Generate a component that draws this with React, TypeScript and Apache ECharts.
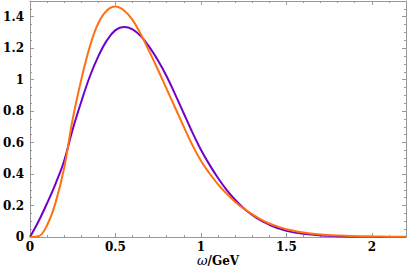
import React, { useEffect, useRef } from "react";
import * as echarts from "echarts";

const xValues = [0, 0.05, 0.1, 0.15, 0.2, 0.25, 0.3, 0.35, 0.4, 0.45, 0.5, 0.55, 0.6, 0.65, 0.7, 0.75, 0.8, 0.85, 0.9, 0.95, 1.0, 1.05, 1.1, 1.15, 1.2, 1.25, 1.3, 1.35, 1.4, 1.45, 1.5, 1.6, 1.7, 1.8, 1.9, 2.0, 2.1, 2.2];
const purpleValues = [0, 0.1, 0.215, 0.34, 0.485, 0.685, 0.86, 1.02, 1.15, 1.25, 1.315, 1.335, 1.32, 1.275, 1.205, 1.12, 1.02, 0.905, 0.785, 0.665, 0.555, 0.46, 0.375, 0.3, 0.237, 0.183, 0.14, 0.105, 0.078, 0.056, 0.039, 0.02, 0.01, 0.005, 0.002, 0.001, 0.0005, 0];
const orangeValues = [0, 0.005, 0.075, 0.22, 0.44, 0.75, 1.0, 1.21, 1.36, 1.44, 1.465, 1.44, 1.38, 1.285, 1.175, 1.06, 0.94, 0.82, 0.7, 0.585, 0.485, 0.405, 0.335, 0.276, 0.224, 0.18, 0.145, 0.112, 0.086, 0.066, 0.05, 0.028, 0.016, 0.009, 0.005, 0.003, 0.002, 0.001];

const X_MIN = 0;
const X_MAX = 2.2;
const Y_MIN = 0;
const Y_MAX = 1.5;

const FRAME = "#999999";
const SERIF = "'DejaVu Serif', 'Liberation Serif', serif";
const labelFont = { fontFamily: SERIF, fontWeight: "bold" as const, fontSize: 12, color: "#000" };

export default function App() {
  const ref = useRef<HTMLDivElement>(null);
  useEffect(() => {
    if (!ref.current) return;
    const chart = echarts.init(ref.current, null, { renderer: "svg" });
    const hiddenCommon = {
      type: "value" as const,
      axisLabel: { show: false },
      splitLine: { show: false },
    };
    const xMain = (position: "bottom" | "top", labels: boolean) => ({
      ...hiddenCommon,
      position,
      min: X_MIN,
      max: X_MAX,
      interval: 0.5,
      axisLine: { show: true, onZero: false, lineStyle: { color: FRAME, width: 1 } },
      axisTick: { show: true, inside: true, length: 4, lineStyle: { color: FRAME } },
      axisLabel: labels
        ? { show: true, margin: 4, showMaxLabel: false, ...labelFont, formatter: (v: number) => String(v) }
        : { show: false },
    });
    const xMinor = (position: "bottom" | "top") => ({
      ...hiddenCommon,
      position,
      min: X_MIN,
      max: X_MAX,
      interval: 0.1,
      axisLine: { show: false, onZero: false },
      axisTick: { show: true, inside: true, length: 2, lineStyle: { color: FRAME } },
    });
    const yMain = (position: "left" | "right", labels: boolean) => ({
      ...hiddenCommon,
      position,
      min: Y_MIN,
      max: Y_MAX,
      interval: 0.2,
      axisLine: { show: true, onZero: false, lineStyle: { color: FRAME, width: 1 } },
      axisTick: { show: true, inside: true, length: 4, lineStyle: { color: FRAME } },
      axisLabel: labels
        ? { show: true, margin: 6, showMaxLabel: false, ...labelFont, formatter: (v: number) => String(Math.round(v * 10) / 10) }
        : { show: false },
    });
    const yMinor = (position: "left" | "right") => ({
      ...hiddenCommon,
      position,
      min: Y_MIN,
      max: Y_MAX,
      interval: 0.05,
      axisLine: { show: false, onZero: false },
      axisTick: { show: true, inside: true, length: 2, lineStyle: { color: FRAME } },
    });

    const xAxes: any[] = [
      {
        ...xMain("bottom", true),
        name: "{w|ω}{g|/GeV}",
        nameLocation: "middle",
        nameGap: 17,
        nameMoveOverlap: false,
        nameTextStyle: {
          lineHeight: 13,
          rich: {
            w: { fontFamily: SERIF, fontStyle: "italic", fontSize: 13, lineHeight: 13, color: "#000" },
            g: { fontFamily: SERIF, fontWeight: "bold", fontSize: 12, lineHeight: 13, color: "#000" },
          },
        },
      },
      xMinor("bottom"),
      xMain("top", false),
      xMinor("top"),
    ];
    const yAxes: any[] = [yMain("left", true), yMinor("left"), yMain("right", false), yMinor("right")];

    chart.setOption({
      animation: false,
      backgroundColor: "#fff",
      grid: { left: 30, right: 1, top: 1, bottom: 34, containLabel: false, outerBoundsMode: "none" },
      xAxis: xAxes,
      yAxis: yAxes,
      series: [
        {
          type: "line",
          xAxisIndex: 0,
          yAxisIndex: 0,
          data: xValues.map((x, i) => [x, purpleValues[i]]),
          showSymbol: false,
          smooth: 0.4,
          lineStyle: { color: "#7000cc", width: 2 },
          clip: true,
        },
        {
          type: "line",
          xAxisIndex: 0,
          yAxisIndex: 0,
          data: xValues.map((x, i) => [x, orangeValues[i]]),
          showSymbol: false,
          smooth: 0.4,
          lineStyle: { color: "#ff7010", width: 2 },
          clip: true,
        },
      ],
    });
    return () => chart.dispose();
  }, []);
  return <div ref={ref} style={{ width: 407, height: 271, position: "absolute", left: 0, top: 0 }} />;
}
